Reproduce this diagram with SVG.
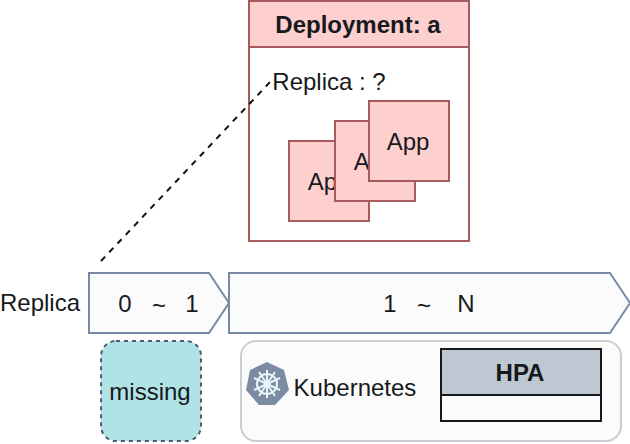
<svg xmlns="http://www.w3.org/2000/svg" width="630" height="444" viewBox="0 0 630 444">
<style>
text{font-family:"Liberation Sans",Arial,sans-serif;font-size:24px;fill:#17191c;text-anchor:middle}
.b{font-weight:bold}
.pink{fill:#fdcfcf;stroke:#a65c5c;stroke-width:2}
.arrow{fill:#fbfbfb;stroke:#788aa3;stroke-width:2}
</style>
<rect width="630" height="444" fill="#ffffff"/>
<g id="deployment">
<rect x="249" y="1" width="220" height="240" fill="#fff" stroke="#a65c5c" stroke-width="2"/>
<rect x="249" y="1" width="220" height="46" class="pink"/>
<text x="358" y="33" class="b">Deployment: a</text>
<text x="329" y="90">Replica : ?</text>
</g>
<g id="app1"><rect x="289" y="141" width="80" height="80" class="pink"/><text x="329" y="190">App</text></g>
<g id="app2"><rect x="335" y="121" width="80" height="80" class="pink"/><text x="375" y="170">App</text></g>
<g id="app3"><rect x="369" y="101" width="80" height="80" class="pink"/><text x="408" y="150">App</text></g>
<g id="replica-label"><text x="40" y="311">Replica</text></g>
<g id="range-0-1"><path d="M89 273H209L229 303L209 333H89Z" class="arrow"/><text x="125" y="312">0</text><text x="159" y="314">~</text><text x="192" y="312">1</text></g>
<g id="range-1-n"><path d="M229 273H610L630 303L610 333H229Z" class="arrow"/><text x="390" y="312">1</text><text x="424" y="314">~</text><text x="466" y="312">N</text></g>
<g id="missing"><rect x="101" y="341" width="100" height="100" rx="15" fill="#b0e3e6" stroke="#4d5a6b" stroke-width="2" stroke-dasharray="4 4"/><text x="150" y="400">missing</text></g>
<g id="kubernetes">
<rect x="241" y="341" width="380" height="100" rx="15" fill="#fcfbfb" stroke="#c8cdd6" stroke-width="2"/>
<path d="M267 362L284 370L289 390L275 405H259L246 390L250 370Z" fill="#7a8ba3"/>
<g fill="none" stroke="#e8f6f7" stroke-width="2"><circle cx="267" cy="384" r="10"/><circle cx="267" cy="384" r="2.5"/><path d="M267 370V398M254 378L280 390M254 390L280 378M259 396L275 372M275 396L259 372"/></g>
<text x="355" y="396">Kubernetes</text>
</g>
<g id="hpa">
<rect x="441" y="349" width="160" height="72" fill="#fcfbfb" stroke="#17191c" stroke-width="2"/>
<rect x="441" y="349" width="160" height="46" fill="#bec8d2" stroke="#17191c" stroke-width="2"/>
<text x="520" y="381" class="b">HPA</text>
</g>
<g id="connectors"><path d="M101 261L271 81" fill="none" stroke="#111" stroke-width="2" stroke-dasharray="6 6"/></g>
</svg>
